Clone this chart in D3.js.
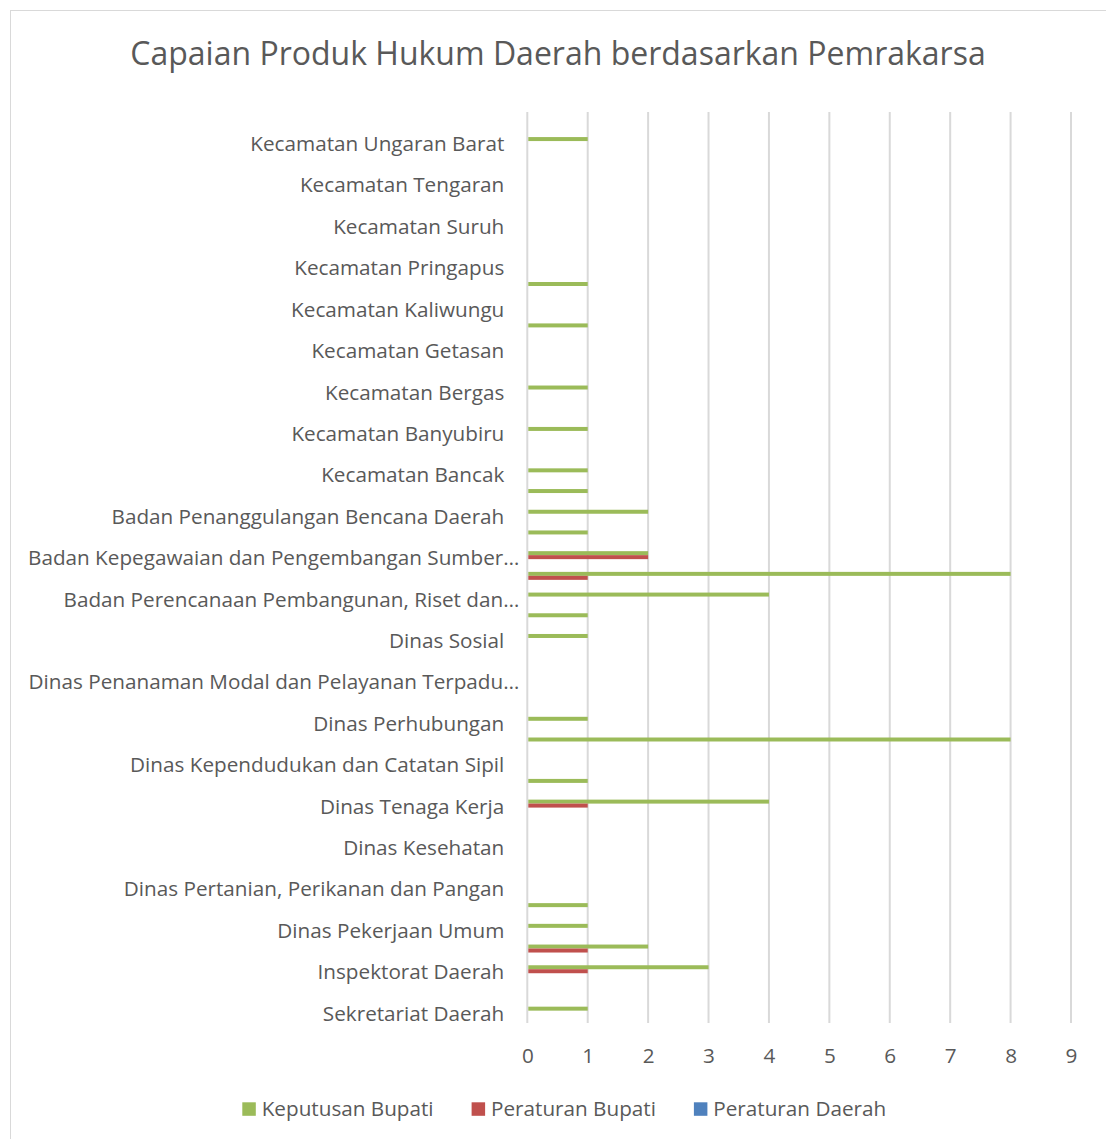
<!DOCTYPE html>
<html>
<head>
<meta charset="utf-8">
<script src="https://cdn.jsdelivr.net/npm/d3@7"></script>
<style>
  html, body { margin: 0; padding: 0; background: #ffffff; }
  svg { display: block; font-family: "Open Sans", sans-serif; }
</style>
</head>
<body>
<svg id="chart" width="1106" height="1139"></svg>
<script>
// ---- Data (index 0 = bottom category, as in the source chart) ----
const categories = [
  "Sekretariat Daerah",
  "Sekretariat DPRD",
  "Inspektorat Daerah",
  "Dinas Pendidikan, Kebudayaan, Kepemudaan dan Olahraga",
  "Dinas Pekerjaan Umum",
  "Dinas Perumahan Rakyat dan Kawasan Permukiman",
  "Dinas Pertanian, Perikanan dan Pangan",
  "Satuan Polisi Pamong Praja",
  "Dinas Kesehatan",
  "Dinas Lingkungan Hidup",
  "Dinas Tenaga Kerja",
  "Dinas Pemberdayaan Masyarakat dan Desa",
  "Dinas Kependudukan dan Catatan Sipil",
  "Dinas Pemberdayaan Perempuan dan Perlindungan Anak",
  "Dinas Perhubungan",
  "Dinas Komunikasi dan Informatika",
  "Dinas Penanaman Modal dan Pelayanan Terpadu Satu Pintu",
  "Dinas Koperasi, Usaha Kecil dan Menengah",
  "Dinas Sosial",
  "Dinas Perdagangan",
  "Badan Perencanaan Pembangunan, Riset dan Inovasi Daerah",
  "Badan Keuangan Daerah",
  "Badan Kepegawaian dan Pengembangan Sumber Daya Manusia",
  "Badan Kesatuan Bangsa dan Politik",
  "Badan Penanggulangan Bencana Daerah",
  "Kecamatan Ambarawa",
  "Kecamatan Bancak",
  "Kecamatan Bandungan",
  "Kecamatan Banyubiru",
  "Kecamatan Bawen",
  "Kecamatan Bergas",
  "Kecamatan Bringin",
  "Kecamatan Getasan",
  "Kecamatan Jambu",
  "Kecamatan Kaliwungu",
  "Kecamatan Pabelan",
  "Kecamatan Pringapus",
  "Kecamatan Sumowono",
  "Kecamatan Suruh",
  "Kecamatan Susukan",
  "Kecamatan Tengaran",
  "Kecamatan Tuntang",
  "Kecamatan Ungaran Barat",
  "Kecamatan Ungaran Timur"
];

// Labels as displayed on the axis (every second category, bottom to top)
const tickLabels = [
  "Sekretariat Daerah",
  "Inspektorat Daerah",
  "Dinas Pekerjaan Umum",
  "Dinas Pertanian, Perikanan dan Pangan",
  "Dinas Kesehatan",
  "Dinas Tenaga Kerja",
  "Dinas Kependudukan dan Catatan Sipil",
  "Dinas Perhubungan",
  "Dinas Penanaman Modal dan Pelayanan Terpadu…",
  "Dinas Sosial",
  "Badan Perencanaan Pembangunan, Riset dan…",
  "Badan Kepegawaian dan Pengembangan Sumber…",
  "Badan Penanggulangan Bencana Daerah",
  "Kecamatan Bancak",
  "Kecamatan Banyubiru",
  "Kecamatan Bergas",
  "Kecamatan Getasan",
  "Kecamatan Kaliwungu",
  "Kecamatan Pringapus",
  "Kecamatan Suruh",
  "Kecamatan Tengaran",
  "Kecamatan Ungaran Barat"
];

const keputusanBupati = [1,0,3,2,1,1,0,0,0,0, 4,1,0,8,1,0,0,0,1,1, 4,8,2,1,2,1,1,0,1,0, 1,0,0,1,0,1,0,0,0,0, 0,0,1,0];
const peraturanBupati = [0,0,1,1,0,0,0,0,0,0, 1,0,0,0,0,0,0,0,0,0, 0,1,2,0,0,0,0,0,0,0, 0,0,0,0,0,0,0,0,0,0, 0,0,0,0];
const peraturanDaerah = [0,0,0,0,0,0,0,0,0,0, 0,0,0,0,0,0,0,0,0,0, 0,0,0,0,0,0,0,0,0,0, 0,0,0,0,0,0,0,0,0,0, 0,0,0,0];

const seriesNames = ["Keputusan Bupati", "Peraturan Bupati", "Peraturan Daerah"];
const seriesColors = ["#9bbb59", "#c0504d", "#4f81bd"];
const xTicks = [0,1,2,3,4,5,6,7,8,9];
const title = "Capaian Produk Hukum Daerah berdasarkan Pemrakarsa";

// ---- Layout ----
const svg = d3.select("#chart");
const textColor = "#595959";
const gridColor = "#d9d9d9";
const labelSize = "20.7px";
const plot = { left: 527.3, right: 1071, top: 112, bottom: 1023 };

svg.append("rect").attr("width", 1106).attr("height", 1139).attr("fill", "#ffffff");
svg.append("rect")
  .attr("x", 10.5).attr("y", 10.5)
  .attr("width", 1200).attr("height", 1200)
  .attr("fill", "none").attr("stroke", gridColor).attr("stroke-width", 1);

svg.append("text")
  .attr("x", 558).attr("y", 65)
  .attr("text-anchor", "middle")
  .attr("fill", textColor)
  .style("font-size", "32px")
  .text(title);

const x = d3.scaleLinear().domain([0, 9]).range([plot.left, plot.right]);
const idx = d3.range(categories.length);
const y = d3.scaleBand()
  .domain(idx.slice().reverse())
  .range([plot.top, plot.bottom])
  .paddingInner(0.422)
  .paddingOuter(0.211);
const ySub = d3.scaleBand().domain([0, 1, 2]).range([0, y.bandwidth()]);

// gridlines
svg.append("g").selectAll("line").data(xTicks).join("line")
  .attr("x1", d => x(d)).attr("x2", d => x(d))
  .attr("y1", plot.top).attr("y2", plot.bottom)
  .attr("stroke", gridColor).attr("stroke-width", 2);

// bars
const seriesData = [keputusanBupati, peraturanBupati, peraturanDaerah];
seriesData.forEach((vals, s) => {
  svg.append("g").selectAll("rect")
    .data(idx.filter(i => vals[i] > 0))
    .join("rect")
    .attr("x", x(0) + 1)
    .attr("y", i => y(i) + ySub(s))
    .attr("width", i => x(vals[i]) - x(0) - 1)
    .attr("height", ySub.bandwidth())
    .attr("fill", seriesColors[s]);
});

// x axis
const xAxis = svg.append("g")
  .attr("transform", `translate(0,${plot.bottom})`)
  .call(d3.axisBottom(x).tickValues(xTicks).tickSize(0).tickFormat(d3.format("d")));
xAxis.select(".domain").remove();
xAxis.selectAll("text")
  .attr("y", 40).attr("dy", 0)
  .attr("fill", textColor)
  .style("font-size", labelSize)
  .style("font-family", "'Open Sans', sans-serif");

// y axis
const yAxis = svg.append("g")
  .attr("transform", `translate(${plot.left},0)`)
  .call(d3.axisLeft(y).tickSize(0).tickPadding(23)
    .tickFormat(i => (i % 2 === 0 ? tickLabels[i / 2] : "")));
yAxis.select(".domain").remove();
yAxis.selectAll("text")
  .attr("dy", 4 + 0.35 * 0)
  .attr("dominant-baseline", "auto")
  .attr("fill", textColor)
  .style("font-size", labelSize)
  .style("font-family", "'Open Sans', sans-serif")
  .attr("dx", function () { return this.textContent.endsWith("…") ? 15 : 0; });
yAxis.selectAll(".tick").attr("transform", i => `translate(0,${y(i) + y.bandwidth() / 2})`);
yAxis.selectAll("text").attr("y", 0).attr("dy", 4 + 7.4 - 3.4);

// legend
const legend = svg.append("g");
let lx = 242.3;
seriesNames.forEach((name, s) => {
  legend.append("rect")
    .attr("x", lx).attr("y", 1102.3)
    .attr("width", 13.5).attr("height", 13.5)
    .attr("fill", seriesColors[s]);
  const t = legend.append("text")
    .attr("x", lx + 19.4).attr("y", 1116)
    .attr("fill", textColor)
    .style("font-size", labelSize)
    .text(name);
  const w = t.node().getComputedTextLength();
  lx = lx + 19.4 + w + 38;
});
</script>
</body>
</html>
